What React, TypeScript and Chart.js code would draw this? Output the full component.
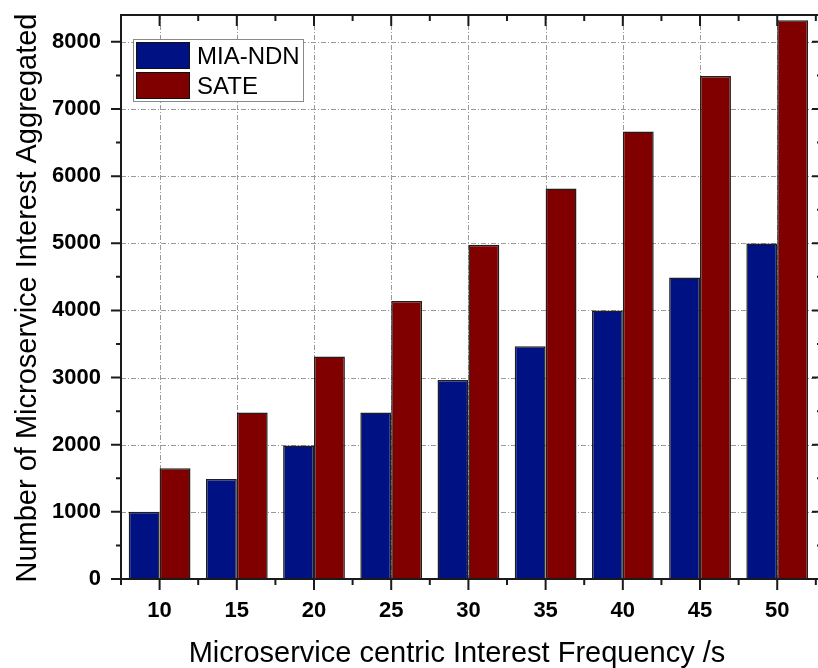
import React, { useEffect, useRef } from "react";
import { Chart, registerables } from "chart.js";

Chart.register(...registerables);

const FREQUENCIES = [10, 15, 20, 25, 30, 35, 40, 45, 50];
const MIA_NDN = [1000, 1490, 1990, 2480, 2965, 3465, 4000, 4490, 4995];
const SATE = [1650, 2480, 3315, 4140, 4980, 5815, 6665, 7490, 8320];
const Y_TICKS = [0, 1000, 2000, 3000, 4000, 5000, 6000, 7000, 8000];
const SERIES_NAMES = ["MIA-NDN", "SATE"];
const SERIES_COLORS = ["#001283", "#800000"];

const X_TITLE = "Microservice centric Interest Frequency /s";
const Y_TITLE = "Number of Microservice Interest Aggregated";

const decorPlugin = {
  id: "decor",
  beforeDatasetsDraw(chart: any) {
    const { ctx, chartArea: a, scales } = chart;
    const x = scales.x, y = scales.y;
    ctx.save();
    ctx.strokeStyle = "#9a9a9a";
    ctx.lineWidth = 1;
    ctx.setLineDash([5, 2, 1, 2]);
    FREQUENCIES.forEach((f) => {
      const px = Math.round(x.getPixelForValue(f)) + 0.5;
      ctx.beginPath();
      ctx.moveTo(px, a.top);
      ctx.lineTo(px, a.bottom);
      ctx.stroke();
    });
    Y_TICKS.forEach((v) => {
      if (v === 0) return;
      const py = Math.round(y.getPixelForValue(v)) + 0.5;
      ctx.beginPath();
      ctx.moveTo(a.left, py);
      ctx.lineTo(a.right, py);
      ctx.stroke();
    });
    ctx.restore();
  },
  afterDatasetsDraw(chart: any) {
    const { ctx, chartArea: a, scales } = chart;
    const x = scales.x, y = scales.y;
    ctx.save();
    ctx.setLineDash([]);
    ctx.strokeStyle = "#1a1a1a";
    ctx.lineWidth = 2;
    ctx.strokeRect(a.left, a.top, a.right - a.left, a.bottom - a.top);

    for (let v = 0; v <= 8000; v += 500) {
      const major = v % 1000 === 0;
      const len = major ? 10 : 5;
      const py = y.getPixelForValue(v);
      ctx.beginPath();
      ctx.moveTo(a.left - len, py);
      ctx.lineTo(a.left, py);
      ctx.moveTo(a.right - len, py);
      ctx.lineTo(a.right, py);
      ctx.stroke();
    }
    for (let f = 7.5; f <= 52.5; f += 2.5) {
      const major = f % 5 === 0;
      const len = major ? 11 : 6;
      const px = x.getPixelForValue(f);
      ctx.beginPath();
      ctx.moveTo(px, a.bottom);
      ctx.lineTo(px, a.bottom + len);
      ctx.moveTo(px, a.top);
      ctx.lineTo(px, a.top + len);
      ctx.stroke();
    }

    const lx = 133, ly = 39, lw = 170, lh = 62;
    ctx.fillStyle = "#ffffff";
    ctx.fillRect(lx, ly, lw, lh);
    ctx.lineWidth = 1;
    ctx.strokeStyle = "#8a8a8a";
    ctx.strokeRect(lx + 0.5, ly + 0.5, lw, lh);
    ctx.font = "24px Arial, 'Liberation Sans', sans-serif";
    ctx.textBaseline = "alphabetic";
    ctx.textAlign = "left";
    SERIES_NAMES.forEach((name, i) => {
      const sy = 42 + i * 30;
      ctx.fillStyle = SERIES_COLORS[i];
      ctx.fillRect(136, sy, 53, 26);
      ctx.strokeStyle = "#111";
      ctx.strokeRect(136.5, sy + 0.5, 53, 26);
      ctx.fillStyle = "#000";
      ctx.fillText(name, 197, 64 + i * 29.5);
    });

    ctx.fillStyle = "#000";
    ctx.font = "29px Arial, 'Liberation Sans', sans-serif";
    ctx.textAlign = "center";
    ctx.textBaseline = "alphabetic";
    ctx.fillText(X_TITLE, 457, 662);
    ctx.save();
    ctx.translate(36, 298);
    ctx.rotate(-Math.PI / 2);
    ctx.fillText(Y_TITLE, 0, 0);
    ctx.restore();
    ctx.restore();
  },
};

export default function App() {
  const ref = useRef<HTMLCanvasElement>(null);
  useEffect(() => {
    if (!ref.current) return;
    const chart = new Chart(ref.current, {
      type: "bar",
      data: {
        datasets: SERIES_NAMES.map((name, i) => ({
          label: name,
          data: FREQUENCIES.map((f, j) => ({ x: f, y: i === 0 ? MIA_NDN[j] : SATE[j] })),
          backgroundColor: SERIES_COLORS[i],
          borderColor: "#1e1e1e",
          borderWidth: 1.5,
          categoryPercentage: 0.8,
          barPercentage: 1.0,
        })),
      },
      options: {
        responsive: false,
        animation: false,
        devicePixelRatio: 1,
        layout: { padding: { top: 15, left: 0, right: 4, bottom: 0 } },
        plugins: { legend: { display: false }, tooltip: { enabled: false }, title: { display: false } },
        scales: {
          x: {
            type: "linear",
            min: 7.5,
            max: 52.9,
            offset: false,
            grid: { display: false, drawTicks: false },
            border: { display: false },
            afterBuildTicks: (s: any) => {
              s.ticks = FREQUENCIES.map((v) => ({ value: v }));
            },
            afterFit: (s: any) => {
              s.height = 89;
              s.paddingLeft = 0;
              s.paddingRight = 0;
            },
            ticks: {
              padding: 19,
              color: "#000",
              font: { family: "Arial, 'Liberation Sans', sans-serif", size: 22, weight: "bold" },
              maxRotation: 0,
              autoSkip: false,
              callback: (v: any) => String(v),
            },
          },
          y: {
            type: "linear",
            min: 0,
            max: 8400,
            grid: { display: false, drawTicks: false },
            border: { display: false },
            afterBuildTicks: (s: any) => {
              s.ticks = Y_TICKS.map((v) => ({ value: v }));
            },
            afterFit: (s: any) => {
              s.width = 121;
              s.paddingTop = 0;
              s.paddingBottom = 0;
            },
            ticks: {
              padding: 20,
              color: "#000",
              font: { family: "Arial, 'Liberation Sans', sans-serif", size: 22, weight: "bold" },
              callback: (v: any) => String(v),
            },
          },
        },
      },
      plugins: [decorPlugin],
    } as any);
    return () => chart.destroy();
  }, []);
  return (
    <div style={{ position: "absolute", left: 0, top: 0, width: 818, height: 668, overflow: "hidden", background: "#fff" }}>
      <canvas ref={ref} width={826} height={668} style={{ display: "block" }} />
    </div>
  );
}
